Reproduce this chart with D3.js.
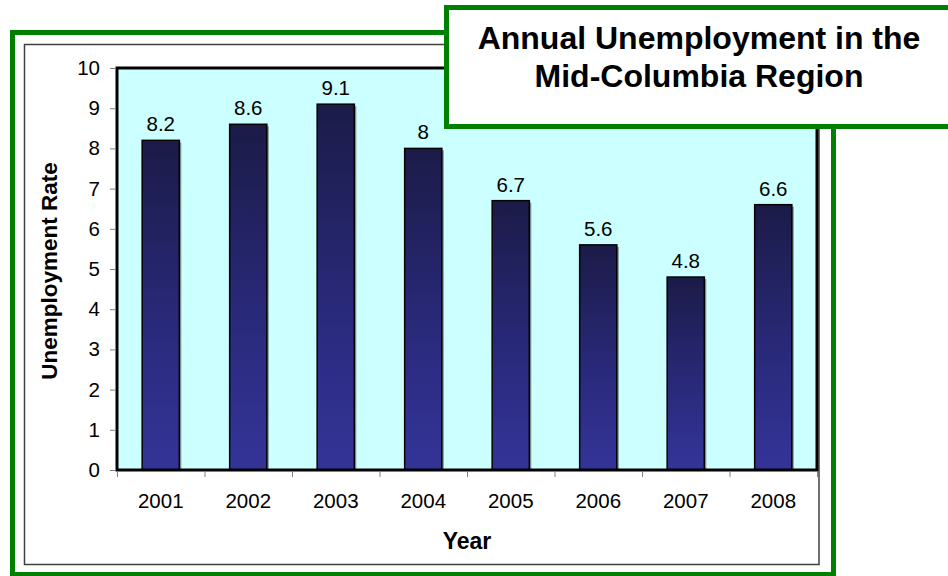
<!DOCTYPE html>
<html>
<head>
<meta charset="utf-8">
<script src="https://cdn.jsdelivr.net/npm/d3@7"></script>
<style>
  html, body { margin: 0; padding: 0; background: #fff; overflow: hidden; }
  svg { display: block; font-family: Arial, 'Liberation Sans', sans-serif; }
</style>
</head>
<body>
<svg id="chart" width="948" height="576"></svg>
<script>
const years = ['2001', '2002', '2003', '2004', '2005', '2006', '2007', '2008'];
const rates = [8.2, 8.6, 9.1, 8, 6.7, 5.6, 4.8, 6.6];
const yTicks = [0, 1, 2, 3, 4, 5, 6, 7, 8, 9, 10];
const titleLines = ['Annual Unemployment in the', 'Mid-Columbia Region'];

const svg = d3.select('#chart');
const green = '#008000';

// plot box
const plot = { left: 117, top: 68, right: 817, bottom: 470 };

const defs = svg.append('defs');
const grad = defs.append('linearGradient')
  .attr('id', 'barGrad')
  .attr('x1', 0).attr('y1', 0).attr('x2', 0).attr('y2', 1);
grad.append('stop').attr('offset', '0%').attr('stop-color', '#1b1b48');
grad.append('stop').attr('offset', '55%').attr('stop-color', '#29297a');
grad.append('stop').attr('offset', '100%').attr('stop-color', '#343499');

// outer green frame and inner gray frame
svg.append('rect')
  .attr('x', 12.5).attr('y', 32.5)
  .attr('width', 821).attr('height', 542)
  .attr('fill', '#fff')
  .attr('stroke', green).attr('stroke-width', 5);

svg.append('rect')
  .attr('x', 24.5).attr('y', 44.5)
  .attr('width', 794.5).attr('height', 520)
  .attr('fill', '#fff')
  .attr('stroke', '#404040').attr('stroke-width', 1.5);

const x = d3.scaleBand()
  .domain(years)
  .range([plot.left, plot.right])
  .paddingInner(0.575)
  .paddingOuter(0.2875);

const y = d3.scaleLinear()
  .domain([0, 10])
  .range([plot.bottom, plot.top]);

svg.append('rect')
  .attr('x', plot.left).attr('y', plot.top)
  .attr('width', plot.right - plot.left)
  .attr('height', plot.bottom - plot.top)
  .attr('fill', '#ccffff');

// bar shadows
svg.append('g').selectAll('rect')
  .data(rates)
  .join('rect')
  .attr('x', (d, i) => x(years[i]) + 2)
  .attr('y', d => y(d) + 2)
  .attr('width', x.bandwidth())
  .attr('height', d => y(0) - y(d) - 2)
  .attr('fill', '#8a9a9a');

svg.append('g').selectAll('rect')
  .data(rates)
  .join('rect')
  .attr('x', (d, i) => x(years[i]))
  .attr('y', d => y(d))
  .attr('width', x.bandwidth())
  .attr('height', d => y(0) - y(d))
  .attr('fill', 'url(#barGrad)')
  .attr('stroke', '#000').attr('stroke-width', 1.5);

svg.append('g').selectAll('text')
  .data(rates)
  .join('text')
  .attr('x', (d, i) => x(years[i]) + x.bandwidth() / 2)
  .attr('y', d => y(d) - 9)
  .attr('text-anchor', 'middle')
  .attr('font-size', 20.5)
  .attr('fill', '#000')
  .text(d => d);

// plot border
svg.append('rect')
  .attr('x', plot.left).attr('y', plot.top)
  .attr('width', plot.right - plot.left)
  .attr('height', plot.bottom - plot.top)
  .attr('fill', 'none')
  .attr('stroke', '#000').attr('stroke-width', 3);

// y axis
const yAxis = svg.append('g')
  .attr('transform', `translate(${plot.left - 1},0)`)
  .call(d3.axisLeft(y).tickValues(yTicks).tickSize(6).tickPadding(10));
yAxis.select('.domain').remove();
yAxis.selectAll('line').attr('stroke', '#808080');
yAxis.selectAll('text')
  .attr('font-size', 20.5)
  .attr('font-family', 'Arial, Liberation Sans, sans-serif')
  .attr('fill', '#000');

// x axis: ticks at category boundaries, labels centred
const xb = d3.scaleLinear().domain([0, years.length]).range([plot.left, plot.right]);
const xTickAxis = svg.append('g')
  .attr('transform', `translate(0,${plot.bottom + 1})`)
  .call(d3.axisBottom(xb).ticks(years.length).tickSize(6).tickFormat(''));
xTickAxis.select('.domain').remove();
xTickAxis.selectAll('line').attr('stroke', '#808080');

const xAxis = svg.append('g')
  .attr('transform', `translate(0,${plot.bottom})`)
  .call(d3.axisBottom(x).tickSize(0).tickPadding(23));
xAxis.select('.domain').remove();
xAxis.selectAll('text')
  .attr('font-size', 20.5)
  .attr('font-family', 'Arial, Liberation Sans, sans-serif')
  .attr('fill', '#000');

// axis titles
svg.append('text')
  .attr('transform', 'translate(57,271) rotate(-90)')
  .attr('text-anchor', 'middle')
  .attr('font-size', 22.5)
  .attr('font-weight', 'bold')
  .text('Unemployment Rate');

svg.append('text')
  .attr('x', 467).attr('y', 549)
  .attr('text-anchor', 'middle')
  .attr('font-size', 23)
  .attr('font-weight', 'bold')
  .text('Year');

// title box
svg.append('rect')
  .attr('x', 446.5).attr('y', 7.5)
  .attr('width', 520).attr('height', 119)
  .attr('fill', '#fff')
  .attr('stroke', green).attr('stroke-width', 5);

svg.append('g').selectAll('text')
  .data(titleLines)
  .join('text')
  .attr('x', 699)
  .attr('y', (d, i) => 49 + i * 38)
  .attr('text-anchor', 'middle')
  .attr('font-size', 32)
  .attr('font-weight', 'bold')
  .text(d => d);
</script>
</body>
</html>
